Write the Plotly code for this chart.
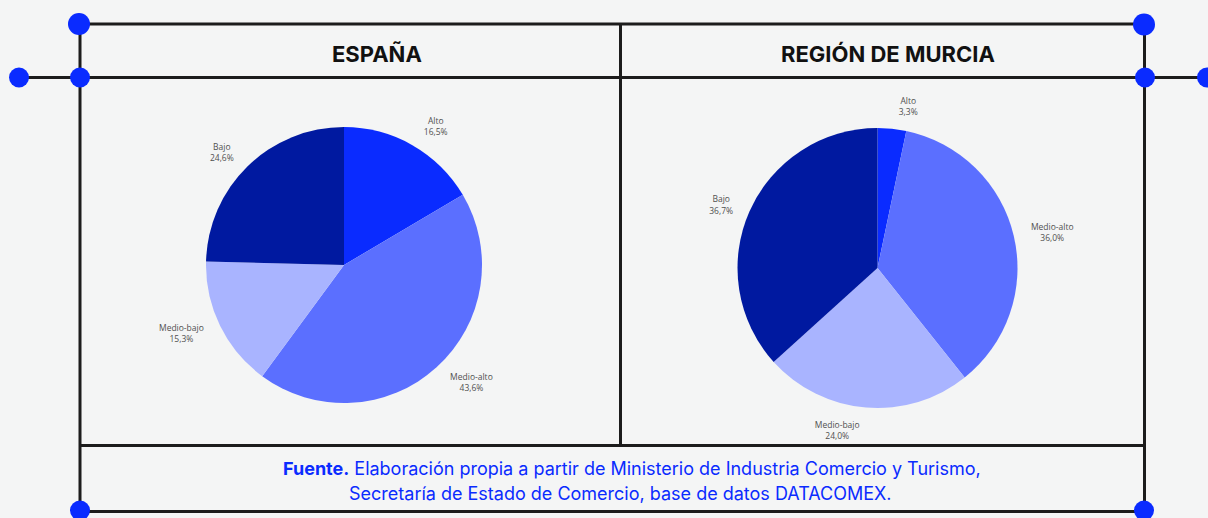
import plotly.graph_objects as go

W, H = 1208, 518

# --- data -------------------------------------------------------------
categories = ["Alto", "Medio-alto", "Medio-bajo", "Bajo"]
espana_pct = [16.5, 43.6, 15.3, 24.6]
murcia_pct = [3.3, 36.0, 24.0, 36.7]
panel_titles = ["ESPAÑA", "REGIÓN DE MURCIA"]
source_lines = [
    "<b>Fuente.</b> Elaboración propia a partir de Ministerio de Industria Comercio y Turismo,",
    "Secretaría de Estado de Comercio, base de datos DATACOMEX.",
]

slice_colors = ["#0A2BFF", "#5B6FFF", "#A9B4FF", "#0019A0"]
frame_color = "#1c1c1c"
dot_color = "#0A2BFF"
bg = "#F4F5F5"


def px(x):
    return x / W


def py(y):
    return 1 - y / H


def pie_domain(cx, cy, r):
    return dict(x=[px(cx - r), px(cx + r)], y=[py(cy + r), py(cy - r)])


label_font = dict(family="Open Sans, Noto Sans, sans-serif", size=8.5, color="#505050")
LABEL_GAP = 12  # extra radial distance of the slice labels

fig = go.Figure()
for vals, (cx, cy, r) in [(espana_pct, (344, 265, 138)), (murcia_pct, (877.5, 268, 140))]:
    # visible pie
    fig.add_trace(go.Pie(
        labels=categories,
        values=vals,
        sort=False,
        direction="clockwise",
        rotation=0,
        marker=dict(colors=slice_colors, line=dict(width=0)),
        textinfo="none",
        hoverinfo="skip",
        showlegend=False,
        domain=pie_domain(cx, cy, r),
    ))
    # transparent ring carrying the outside labels a little further out
    fig.add_trace(go.Pie(
        labels=categories,
        values=vals,
        sort=False,
        direction="clockwise",
        rotation=0,
        marker=dict(colors=["rgba(0,0,0,0)"] * len(vals), line=dict(width=0)),
        textposition="outside",
        texttemplate="%{label}<br>%{value:.1f}%",
        textfont=label_font,
        outsidetextfont=label_font,
        hoverinfo="skip",
        showlegend=False,
        domain=pie_domain(cx, cy, r + LABEL_GAP),
    ))

shapes = []


def hline(x0, x1, y):
    shapes.append(dict(type="line", xref="paper", yref="paper",
                       x0=px(x0), x1=px(x1), y0=py(y), y1=py(y),
                       line=dict(color=frame_color, width=3)))


def vline(x, y0, y1):
    shapes.append(dict(type="line", xref="paper", yref="paper",
                       x0=px(x), x1=px(x), y0=py(y0), y1=py(y1),
                       line=dict(color=frame_color, width=3)))


def dot(x, y, r):
    shapes.append(dict(type="circle", xref="paper", yref="paper",
                       x0=px(x - r), x1=px(x + r), y0=py(y + r), y1=py(y - r),
                       fillcolor=dot_color, line=dict(width=0), layer="above"))


# frame
L, R, T, B = 80, 1144.5, 24, 511.5
hline(L, R, T)
hline(19, 1208, 77.5)
hline(L, R, 445.5)
hline(L, R, B)
vline(L, T, B)
vline(R, T, B)
vline(620.5, T, 445.5)

# corner markers
dot(79, 24, 11)
dot(1144, 24.5, 11)
dot(19, 77.5, 10)
dot(80, 77.5, 10)
dot(1145, 77.5, 10)
dot(1207, 77.5, 10)
dot(80, 510.5, 10)
dot(1144, 510.5, 10)

annotations = []
for title, x in zip(panel_titles, [376.5, 888]):
    annotations.append(dict(text=title, x=px(x), y=py(54), xref="paper", yref="paper",
                            showarrow=False, xanchor="center", yanchor="middle",
                            font=dict(family="Inter, Roboto, sans-serif", size=22,
                                      color="#111111", weight="bold")))
for line, x, y in zip(source_lines, [632, 620], [468, 493]):
    annotations.append(dict(text=line, x=px(x), y=py(y), xref="paper", yref="paper",
                            showarrow=False, xanchor="center", yanchor="middle",
                            font=dict(family="Inter, Roboto, sans-serif", size=18, color="#0A2BFF")))

fig.update_layout(
    width=W, height=H,
    margin=dict(l=0, r=0, t=0, b=0),
    paper_bgcolor=bg, plot_bgcolor=bg,
    separators=",.",
    shapes=shapes,
    annotations=annotations,
)

fig.write_html("out.html")
